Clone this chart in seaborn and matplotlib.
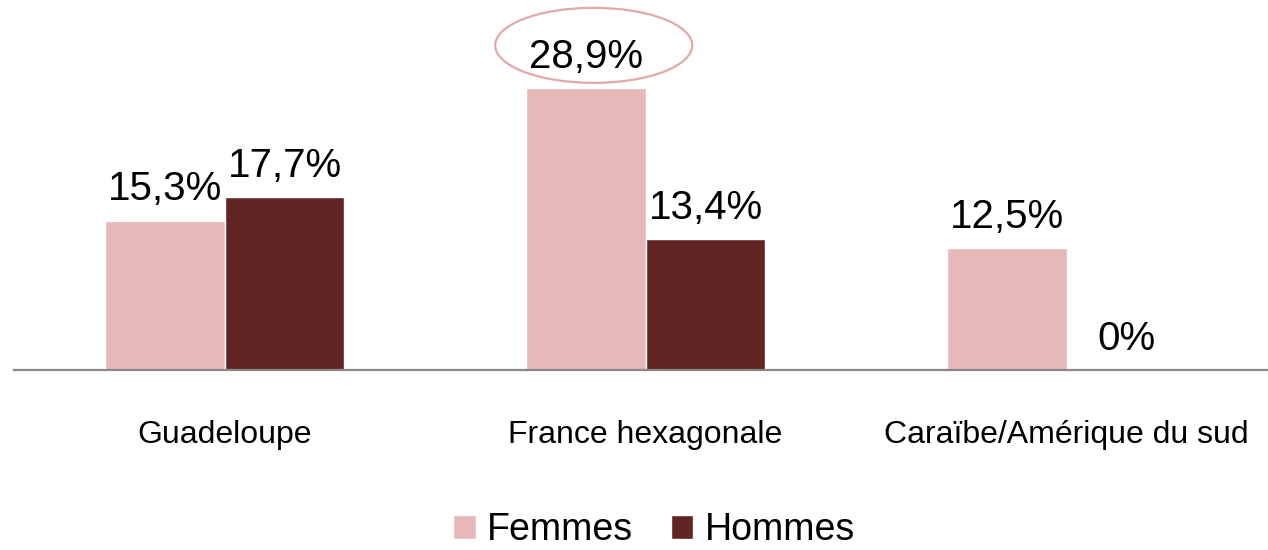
import matplotlib
matplotlib.use("Agg")
import matplotlib.pyplot as plt
import seaborn as sns
import pandas as pd
from matplotlib.patches import Ellipse

# data
regions = ["Guadeloupe", "France hexagonale", "Caraïbe/Amérique du sud"]
femmes = [15.3, 28.9, 12.5]
hommes = [17.7, 13.4, 0.0]
femmes_labels = ["15,3%", "28,9%", "12,5%"]
hommes_labels = ["17,7%", "13,4%", "0%"]

colors = {"Femmes": "#E6B8B7", "Hommes": "#632523"}

sns.set_theme(style="white")
plt.rcParams["font.family"] = ["Liberation Sans Narrow", "Liberation Sans", "DejaVu Sans"]

df = pd.DataFrame({
    "Region": regions * 2,
    "Sexe": ["Femmes"] * 3 + ["Hommes"] * 3,
    "Valeur": femmes + hommes,
})

fig = plt.figure(figsize=(12.68, 5.5), dpi=100)
ax = fig.add_axes([14 / 1268, 180 / 550, 1263 / 1268, 370 / 550])

sns.barplot(data=df, x="Region", y="Valeur", hue="Sexe", palette=colors,
            width=0.57, gap=0, saturation=1, errorbar=None, ax=ax)

ax.set_ylim(0, 37.95)
ax.set_xlim(-0.5, 2.5)

for cont, labs in zip(ax.containers, [femmes_labels, hommes_labels]):
    ax.bar_label(cont, labels=labs, padding=9, fontsize=29, color="black")

# highlight the France hexagonale / Femmes value
ax.add_patch(Ellipse((0.877, 33.3), 0.468, 7.7, fill=False,
                     edgecolor="#E3A9A8", linewidth=1.6, clip_on=False))

ax.set_xlabel("")
ax.set_ylabel("")
ax.set_yticks([])
ax.tick_params(axis="x", length=0, labelsize=23, labelcolor="black", pad=36)
for s in ["top", "right", "left"]:
    ax.spines[s].set_visible(False)
ax.spines["bottom"].set_color("#898989")
ax.spines["bottom"].set_linewidth(1.6)

leg = ax.legend(loc="center", bbox_to_anchor=(640 / 1263, -160 / 370),
                ncol=2, frameon=False, fontsize=27, handlelength=0.6,
                handleheight=0.6, handletextpad=0.3, columnspacing=1.0)
for t in leg.get_texts():
    t.set_color("black")
leg.set_title(None)

fig.savefig("out.png", dpi=100)
